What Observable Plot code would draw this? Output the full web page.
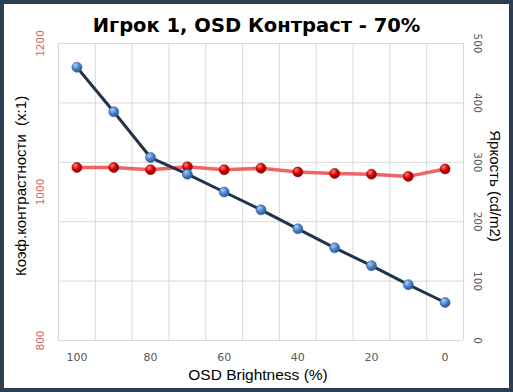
<!DOCTYPE html>
<html>
<head>
<meta charset="utf-8">
<script src="https://cdn.jsdelivr.net/npm/d3@7"></script>
<script src="https://cdn.jsdelivr.net/npm/@observablehq/plot@0.6"></script>
<style>
  html, body { margin: 0; padding: 0; background: #fff; }
  #frame { position: absolute; left: 0; top: 0; width: 513px; height: 392px; box-sizing: border-box;
           border: 4px solid #2c3e52; background: #fff; }
  #title { position: absolute; left: 0; top: 10px; width: 505px; text-align: center;
           font-family: "DejaVu Sans", sans-serif; font-weight: bold; font-size: 19.5px; color: #000; z-index: 2; }
  #chart { position: absolute; left: 0; top: 0; }
</style>
</head>
<body>
<div id="frame">
  <div id="title">Игрок 1, OSD Контраст - 70%</div>
  <div id="chart"></div>
</div>
<script>
const xCats = [100, 90, 80, 70, 60, 50, 40, 30, 20, 10, 0];
const contrast = [1033, 1033, 1030, 1034, 1030, 1032, 1027, 1025, 1024, 1021, 1031];
const brightness = [460, 385, 308, 280, 250, 220, 188, 156, 126, 94, 64];
const leftTicks = [800, 1000, 1200];
const rightTicks = [0, 100, 200, 300, 400, 500];
const xTickLabels = [100, 80, 60, 40, 20, 0];
const leftTitle = "Коэф.контрастности  (x:1)";
const rightTitle = "Яркость (cd/m2)";
const xTitle = "OSD Brightness (%)";

// map right axis (0..500) onto left axis units (800..1200)
const toLeft = v => 800 + v * 400 / 500;
const rows = xCats.map((x, i) => ({x, contrast: contrast[i], bright: toLeft(brightness[i])}));
const vGrid = xCats.map(d => d + 5).concat([xCats[xCats.length - 1] - 5]);

const font = "DejaVu Sans, sans-serif";
const titleFont = "Liberation Sans, Arial, sans-serif";
const plot = Plot.plot({
  width: 505, height: 384,
  marginTop: 39, marginBottom: 48, marginLeft: 54, marginRight: 46,
  style: {fontFamily: font, background: "transparent"},
  x: {domain: [105, -5], axis: null},
  y: {domain: [800, 1200], axis: null},
  marks: [
    Plot.ruleX(vGrid, {x: d => d, stroke: "#d9d9d9", strokeWidth: 1}),
    Plot.ruleY(rightTicks, {y: d => toLeft(d), stroke: "#d9d9d9", strokeWidth: 1}),
    Plot.line(rows, {x: "x", y: "contrast", stroke: "#f04848", strokeOpacity: 0.85, strokeWidth: 3.5}),
    Plot.dot(rows, {x: "x", y: "contrast", r: 5, fill: "url(#gradRed)", stroke: "#a00000", strokeWidth: 0.6}),
    Plot.line(rows, {x: "x", y: "bright", stroke: "#22344a", strokeWidth: 3}),
    Plot.dot(rows, {x: "x", y: "bright", r: 5, fill: "url(#gradBlue)", stroke: "#2f5f9e", strokeWidth: 0.6}),
    Plot.text(leftTicks, {y: d => d, text: d => String(d), frameAnchor: "left", dx: -18, rotate: -90,
      textAnchor: "middle", lineAnchor: "middle", fill: "#e06464", fontSize: 10.5}),
    Plot.text(rightTicks, {y: d => toLeft(d), text: d => String(d), frameAnchor: "right", dx: 14, rotate: 90,
      textAnchor: "middle", lineAnchor: "middle", fill: "#595959", fontSize: 10.5}),
    Plot.text(xTickLabels, {x: d => d, text: d => String(d), frameAnchor: "bottom", dy: 17,
      textAnchor: "middle", lineAnchor: "middle", fill: "#595959", fontSize: 11}),
    Plot.text([leftTitle], {text: d => d, frameAnchor: "left", dx: -37, dy: -6, rotate: -90,
      textAnchor: "middle", lineAnchor: "middle", fill: "#000", fontSize: 15, fontFamily: titleFont}),
    Plot.text([rightTitle], {text: d => d, frameAnchor: "right", dx: 31, dy: -6, rotate: 90,
      textAnchor: "middle", lineAnchor: "middle", fill: "#000", fontSize: 15, fontFamily: titleFont}),
    Plot.text([xTitle], {text: d => d, frameAnchor: "bottom", dy: 35, dx: -3,
      textAnchor: "middle", lineAnchor: "middle", fill: "#000", fontSize: 15.5, fontFamily: titleFont})
  ]
});

const svg = d3.select(plot);
const defs = svg.insert("defs", ":first-child");
const gb = defs.append("radialGradient").attr("id", "gradBlue").attr("cx", "35%").attr("cy", "30%").attr("r", "70%");
gb.append("stop").attr("offset", "0%").attr("stop-color", "#a9cdf5");
gb.append("stop").attr("offset", "55%").attr("stop-color", "#4a85cf");
gb.append("stop").attr("offset", "100%").attr("stop-color", "#2a5a9a");
const gr = defs.append("radialGradient").attr("id", "gradRed").attr("cx", "35%").attr("cy", "30%").attr("r", "70%");
gr.append("stop").attr("offset", "0%").attr("stop-color", "#ff8080");
gr.append("stop").attr("offset", "55%").attr("stop-color", "#d40000");
gr.append("stop").attr("offset", "100%").attr("stop-color", "#8a0000");

document.getElementById("chart").appendChild(plot);
</script>
</body>
</html>
